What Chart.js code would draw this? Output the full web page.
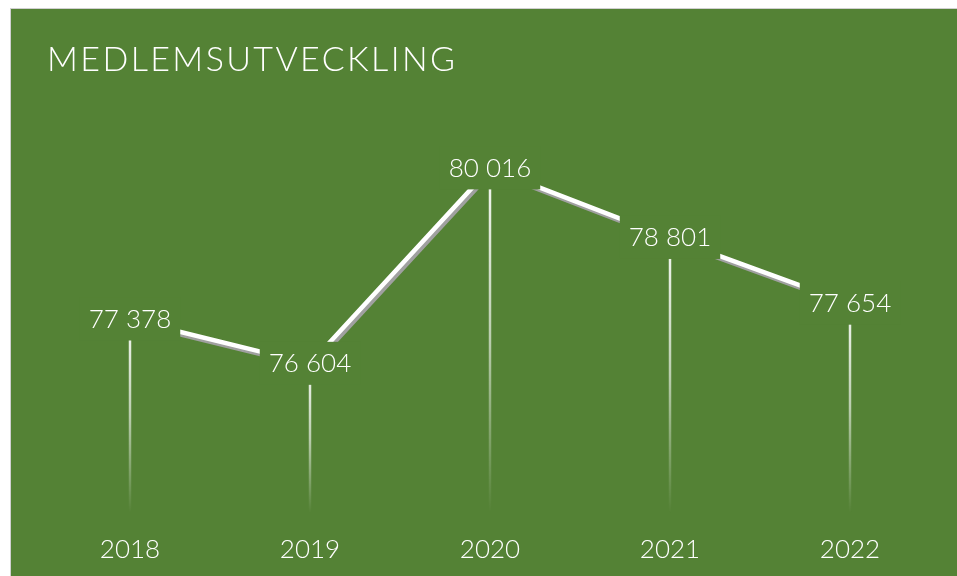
<!DOCTYPE html>
<html>
<head>
<meta charset="utf-8">
<script src="https://cdn.jsdelivr.net/npm/chart.js@4.4.1/dist/chart.umd.min.js"></script>
<style>
  html, body { margin: 0; padding: 0; background: #fff; }
  #wrap {
    position: absolute; left: 10px; top: 8px; width: 946px; height: 568px;
    background: #548235; border-left: 1px solid #d0d0d0; border-top: 1px solid #d0d0d0;
  }
</style>
</head>
<body>
<div id="wrap"><canvas id="chart"></canvas></div>
<script>
  const chartTitle = 'MEDLEMSUTVECKLING';
  const years = ['2018', '2019', '2020', '2021', '2022'];
  const members = [77378, 76604, 80016, 78801, 77654];
  const yMin = 74000;
  const yMax = 81000;

  const green = '#548235';
  const fontFamily = 'Lato, "Open Sans", sans-serif';

  function fmt(v) {
    return String(v).replace(/\B(?=(\d{3})+(?!\d))/g, ' ');
  }

  // gradient drop lines from each point down to the bottom of the plot
  const dropLines = {
    id: 'dropLines',
    beforeDatasetsDraw(chart) {
      const { ctx, chartArea } = chart;
      chart.getDatasetMeta(0).data.forEach((p) => {
        const g = ctx.createLinearGradient(0, p.y, 0, chartArea.bottom);
        g.addColorStop(0, 'rgba(255,255,255,0.95)');
        g.addColorStop(0.5, 'rgba(255,255,255,0.6)');
        g.addColorStop(1, 'rgba(255,255,255,0)');
        ctx.save();
        ctx.strokeStyle = g;
        ctx.lineWidth = 2.5;
        ctx.beginPath();
        ctx.moveTo(p.x, p.y);
        ctx.lineTo(p.x, chartArea.bottom);
        ctx.stroke();
        ctx.restore();
      });
    }
  };

  // gray offset shadow under the white line
  const lineShadow = {
    id: 'lineShadow',
    beforeDatasetDraw(chart) {
      const ctx = chart.ctx;
      ctx.save();
      ctx.shadowColor = '#a0a0a0';
      ctx.shadowOffsetX = 2;
      ctx.shadowOffsetY = 3;
      ctx.shadowBlur = 0;
    },
    afterDatasetDraw(chart) {
      chart.ctx.restore();
    }
  };

  // value labels centred on the points, with a background that cuts the line
  const valueLabels = {
    id: 'valueLabels',
    afterDatasetsDraw(chart) {
      const ctx = chart.ctx;
      ctx.save();
      ctx.font = '300 26px ' + fontFamily;
      ctx.textAlign = 'center';
      ctx.textBaseline = 'middle';
      chart.getDatasetMeta(0).data.forEach((p, i) => {
        const txt = fmt(members[i]);
        const w = ctx.measureText(txt).width;
        ctx.fillStyle = green;
        ctx.fillRect(p.x - w / 2 - 9, p.y - 22, w + 18, 43);
        ctx.fillStyle = '#ffffff';
        ctx.fillText(txt, p.x, p.y);
      });
      ctx.restore();
    }
  };

  const spacedTitle = {
    id: 'spacedTitle',
    afterDraw(chart) {
      const ctx = chart.ctx;
      ctx.save();
      ctx.font = '300 34px ' + fontFamily;
      ctx.letterSpacing = '2.4px';
      ctx.fillStyle = '#ffffff';
      ctx.textAlign = 'left';
      ctx.textBaseline = 'alphabetic';
      ctx.fillText(chartTitle, 36, 62);
      ctx.restore();
    }
  };

  new Chart(document.getElementById('chart'), {
    type: 'line',
    data: {
      labels: years,
      datasets: [{
        data: members,
        borderColor: '#ffffff',
        borderWidth: 4.5,
        borderCapStyle: 'butt',
        pointRadius: 0,
        tension: 0,
        fill: false
      }]
    },
    options: {
      responsive: true,
      maintainAspectRatio: false,
      animation: false,
      layout: { padding: { left: 29, right: 17, top: 103, bottom: 0 } },
      plugins: { legend: { display: false }, tooltip: { enabled: false } },
      scales: {
        x: {
          offset: true,
          grid: { display: false, drawTicks: false },
          border: { display: false },
          ticks: { color: '#ffffff', padding: 21, font: { family: fontFamily, size: 26, weight: 300 } },
          afterFit(scale) { scale.height = 64; }
        },
        y: { display: false, min: yMin, max: yMax }
      }
    },
    plugins: [dropLines, lineShadow, valueLabels, spacedTitle]
  });
</script>
</body>
</html>
